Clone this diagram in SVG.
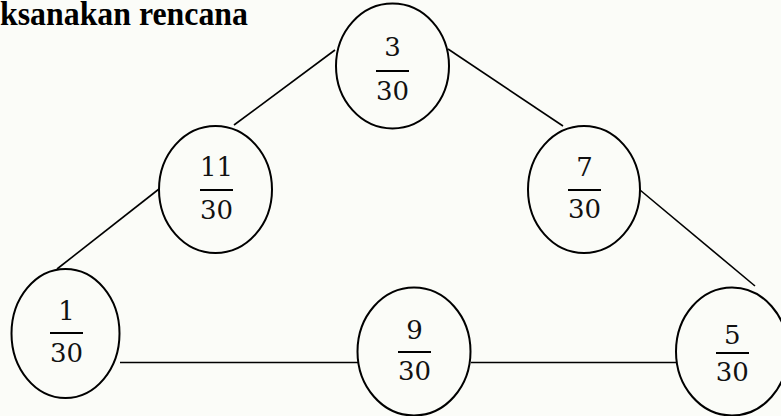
<svg xmlns="http://www.w3.org/2000/svg" width="781" height="416" viewBox="0 0 781 416">
  <style>
    .node ellipse { fill: none; stroke: #000; stroke-width: 2; }
    .node text { font-family: "DejaVu Serif", "Liberation Serif", serif; font-size: 26px; fill: #111; text-anchor: middle; }
    .node line { stroke: #000; stroke-width: 2; }
    #edges line { stroke: #000; stroke-width: 1.6; }
    .title { font-family: "Liberation Serif", "Times New Roman", serif; font-weight: bold; font-size: 34px; fill: #000; }
  </style>

  <rect x="0" y="0" width="781" height="416" fill="#fbfcf8"/>

  <text class="title" x="0" y="25" textLength="248" lengthAdjust="spacingAndGlyphs">ksanakan rencana</text>

  <!-- connectors between the fraction nodes -->
  <g id="edges">
    <line x1="335" y1="50" x2="234" y2="125"/>
    <line x1="448" y1="49" x2="563" y2="126"/>
    <line x1="159" y1="189" x2="57" y2="269"/>
    <line x1="640" y1="190" x2="755" y2="286"/>
    <line x1="120" y1="362.5" x2="358" y2="362.5"/>
    <line x1="471" y1="362.5" x2="676" y2="362.5"/>
  </g>

  <g id="n3" class="node">
    <ellipse cx="392.5" cy="66" rx="56.5" ry="62.5"/>
    <text x="392.5" y="56">3</text>
    <line x1="376" y1="71" x2="409" y2="71"/>
    <text x="392.5" y="100">30</text>
  </g>

  <g id="n11" class="node">
    <ellipse cx="215.5" cy="189.5" rx="56.5" ry="63.5"/>
    <text x="216.5" y="176">11</text>
    <line x1="200" y1="190" x2="233" y2="190"/>
    <text x="216.5" y="219">30</text>
  </g>

  <g id="n7" class="node">
    <ellipse cx="584" cy="189.5" rx="56" ry="63.5"/>
    <text x="584.5" y="176">7</text>
    <line x1="568" y1="190" x2="601" y2="190"/>
    <text x="584.5" y="218">30</text>
  </g>

  <g id="n1" class="node">
    <ellipse cx="65.5" cy="333.5" rx="54" ry="64.5"/>
    <text x="66.5" y="320">1</text>
    <line x1="50" y1="333" x2="83" y2="333"/>
    <text x="66.5" y="362">30</text>
  </g>

  <g id="n9" class="node">
    <ellipse cx="414" cy="351.5" rx="56.5" ry="64"/>
    <text x="414.5" y="339">9</text>
    <line x1="398" y1="352" x2="431" y2="352"/>
    <text x="414.5" y="380">30</text>
  </g>

  <g id="n5" class="node">
    <ellipse cx="732" cy="351.5" rx="56" ry="64"/>
    <text x="732.3" y="344">5</text>
    <line x1="716" y1="353" x2="749" y2="353"/>
    <text x="732.3" y="381">30</text>
  </g>
</svg>
